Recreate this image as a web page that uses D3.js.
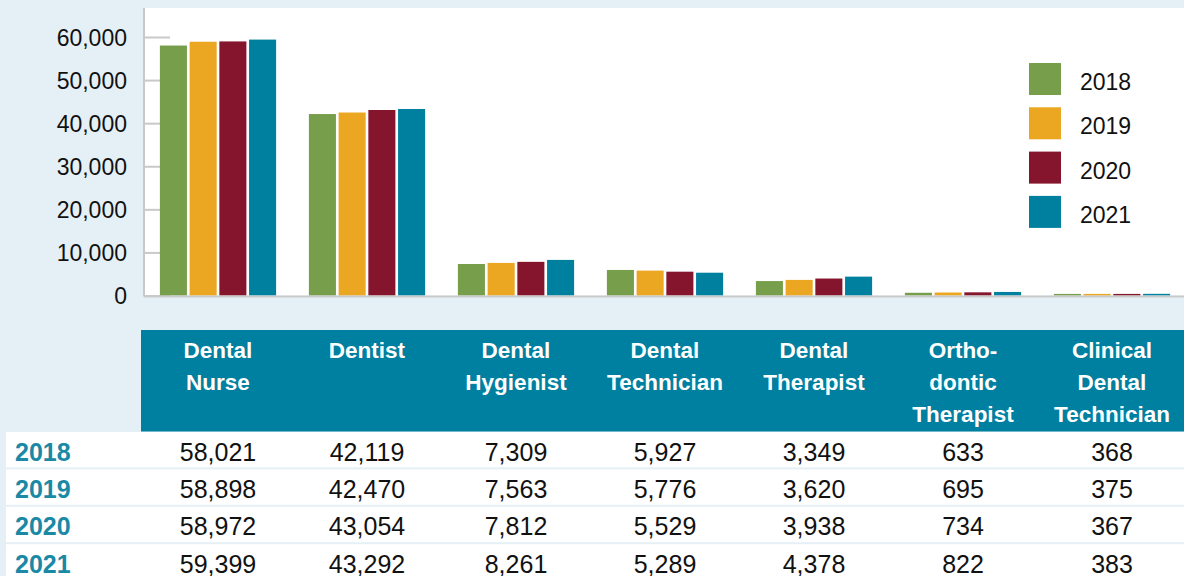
<!DOCTYPE html>
<html><head><meta charset="utf-8">
<script src="https://cdn.jsdelivr.net/npm/d3@7/dist/d3.min.js"></script>
<style>
html,body{margin:0;padding:0;background:#e5f0f6;}
svg{display:block;font-family:"Liberation Sans",Arial,Helvetica,sans-serif;}
</style></head>
<body><svg id="chart" width="1184" height="576"></svg>
<script>
const categories = ["Dental Nurse","Dentist","Dental Hygienist","Dental Technician","Dental Therapist","Orthodontic Therapist","Clinical Dental Technician"];
const headerLines = [["Dental","Nurse"],["Dentist"],["Dental","Hygienist"],["Dental","Technician"],["Dental","Therapist"],["Ortho-","dontic","Therapist"],["Clinical","Dental","Technician"]];
const years = ["2018","2019","2020","2021"];
const values2018 = [58021,42119,7309,5927,3349,633,368];
const values2019 = [58898,42470,7563,5776,3620,695,375];
const values2020 = [58972,43054,7812,5529,3938,734,367];
const values2021 = [59399,43292,8261,5289,4378,822,383];
const yTicks = [0,10000,20000,30000,40000,50000,60000];
const colors = ["#779e4a","#eba622","#85152d","#00809f"];

const series = [values2018, values2019, values2020, values2021];
const svg = d3.select("#chart");
const W = 1184;

const x = d3.scaleBand().domain(categories).range([143.5, 1186.5]).paddingInner(0.22).paddingOuter(0.11);
const xi = d3.scaleBand().domain(years).range([0, x.bandwidth()]).paddingInner(0.09).paddingOuter(0);
const y = d3.scaleLinear().domain([0, 60000]).range([295.5, 37]);
const color = d3.scaleOrdinal().domain(years).range(colors);

// plot background
svg.append("rect").attr("x",145).attr("y",8).attr("width",W-145).attr("height",y(0)-8).attr("fill","#ffffff");

// y axis
const yAxis = d3.axisLeft(y).tickValues(yTicks).tickFormat(d3.format(",")).tickSize(0).tickPadding(17);
const gy = svg.append("g").attr("transform","translate(144,0)").call(yAxis);
gy.select(".domain").remove();
gy.selectAll("text").attr("font-size",23).attr("fill","#111").attr("font-family","'Liberation Sans',Arial,sans-serif").attr("dy","0.36em");
gy.selectAll(".tick").append("line").attr("x1",0).attr("x2",26).attr("stroke","#c9c9c9").attr("stroke-width",2);
svg.append("line").attr("x1",144).attr("x2",144).attr("y1",8).attr("y2",y(0)+1).attr("stroke","#c9c9c9").attr("stroke-width",2);

// bars
const groups = svg.append("g").selectAll("g").data(categories).join("g")
  .attr("transform", d => `translate(${x(d)},0)`);
groups.selectAll("rect").data((d,i) => years.map((yr,j) => ({yr, v: series[j][i]}))).join("rect")
  .attr("x", d => xi(d.yr)).attr("width", xi.bandwidth())
  .attr("y", d => y(d.v)).attr("height", d => y(0) - y(d.v))
  .attr("fill", d => color(d.yr));

// baseline
svg.append("line").attr("x1",144).attr("x2",W).attr("y1",y(0)+1).attr("y2",y(0)+1).attr("stroke","#c9c9c9").attr("stroke-width",2);

// legend
const leg = svg.append("g").selectAll("g").data(years).join("g")
  .attr("transform",(d,i)=>`translate(1029,${63 + i*44.3})`);
leg.append("rect").attr("width",32).attr("height",32).attr("fill",d=>color(d));
leg.append("text").attr("x",51).attr("y",27).attr("font-size",23).attr("fill","#111").text(d=>d);

// table header
svg.append("rect").attr("x",141).attr("y",330).attr("width",W-141).attr("height",101.5).attr("fill","#0080a0");
const hdr = svg.append("g").selectAll("text").data(categories).join("text")
  .attr("x", d => x(d) + x.bandwidth()/2).attr("y",358.3)
  .attr("text-anchor","middle").attr("fill","#fff").attr("font-weight","bold").attr("font-size",22.5);
hdr.each(function(d,i){
  d3.select(this).selectAll("tspan").data(headerLines[i]).join("tspan")
    .attr("x", x(d) + x.bandwidth()/2).attr("dy",(t,k)=> k===0 ? 0 : 31.7).text(t=>t);
});

// table rows
const rowY = d3.scaleBand().domain(years).range([432, 432 + 4*37.4]).paddingInner(0);
years.forEach((yr,j) => {
  svg.append("rect").attr("x",6).attr("y",rowY(yr)).attr("width",W-6).attr("height",rowY.bandwidth()-2).attr("fill","#ffffff");
  const base = rowY(yr) + 28.5;
  svg.append("text").attr("x",15).attr("y",base).attr("font-size",25).attr("font-weight","bold").attr("fill","#1a89a5").text(yr);
  svg.append("g").selectAll("text").data(categories).join("text")
    .attr("x", d => x(d) + x.bandwidth()/2).attr("y", base)
    .attr("text-anchor","middle").attr("font-size",25).attr("fill","#111")
    .text((d,i) => d3.format(",")(series[j][i]));
});
</script></body></html>
